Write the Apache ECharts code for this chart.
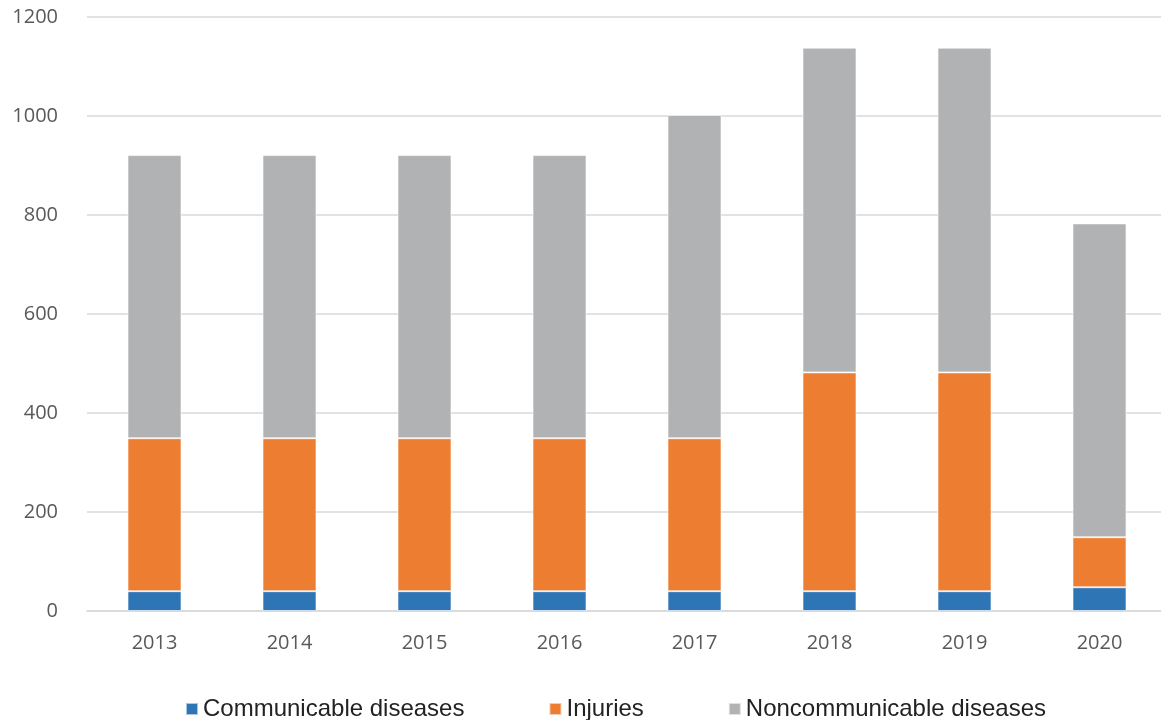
<!DOCTYPE html>
<html>
<head>
<meta charset="utf-8">
<script src="https://cdn.jsdelivr.net/npm/echarts@6/dist/echarts.min.js"></script>
<style>html,body{margin:0;padding:0;background:#fff;}#c{width:1161px;height:720px;}</style>
</head>
<body>
<div id="c"></div>
<script>
const years = ['2013','2014','2015','2016','2017','2018','2019','2020'];
const communicable = [40, 40, 40, 40, 40, 40, 40, 48];
const injuries = [309, 309, 309, 309, 309, 442, 442, 101];
const noncommunicable = [572, 572, 572, 572, 653, 656, 656, 634];
const seriesNames = ['Communicable diseases', 'Injuries', 'Noncommunicable diseases'];
const colors = ['#2E75B6', '#ED7D31', '#B1B2B4'];

const chart = echarts.init(document.getElementById('c'));
const mk = (name, data, color) => ({
  name, type: 'bar', stack: 'total', data, barWidth: 54,
  itemStyle: { color, borderColor: 'rgba(255,255,255,0.6)', borderWidth: 1 }
});
chart.setOption({
  animation: false,
  color: colors,
  grid: { left: 87, top: 17, width: 1080, height: 594, containLabel: false, outerBoundsMode: 'none' },
  legend: {
    top: 692, left: 180,
    itemWidth: 12, itemHeight: 12, itemGap: 84,
    icon: 'rect',
    textStyle: { fontFamily: 'Liberation Sans', fontSize: 24, color: '#222' },
    data: seriesNames
  },
  xAxis: {
    type: 'category', data: years,
    axisLine: { lineStyle: { color: '#d9d9d9', width: 1.5 } },
    axisTick: { show: false },
    axisLabel: { fontFamily: 'Open Sans', fontSize: 20, color: '#595959', margin: 22 }
  },
  yAxis: {
    type: 'value', min: 0, max: 1200, interval: 200,
    axisLine: { show: false }, axisTick: { show: false },
    splitLine: { lineStyle: { color: '#d9d9d9', width: 1.5 } },
    axisLabel: { fontFamily: 'Open Sans', fontSize: 20, color: '#595959', margin: 29,
      formatter: v => String(v) }
  },
  series: [
    mk(seriesNames[0], communicable, colors[0]),
    mk(seriesNames[1], injuries, colors[1]),
    mk(seriesNames[2], noncommunicable, colors[2])
  ]
});
</script>
</body>
</html>
